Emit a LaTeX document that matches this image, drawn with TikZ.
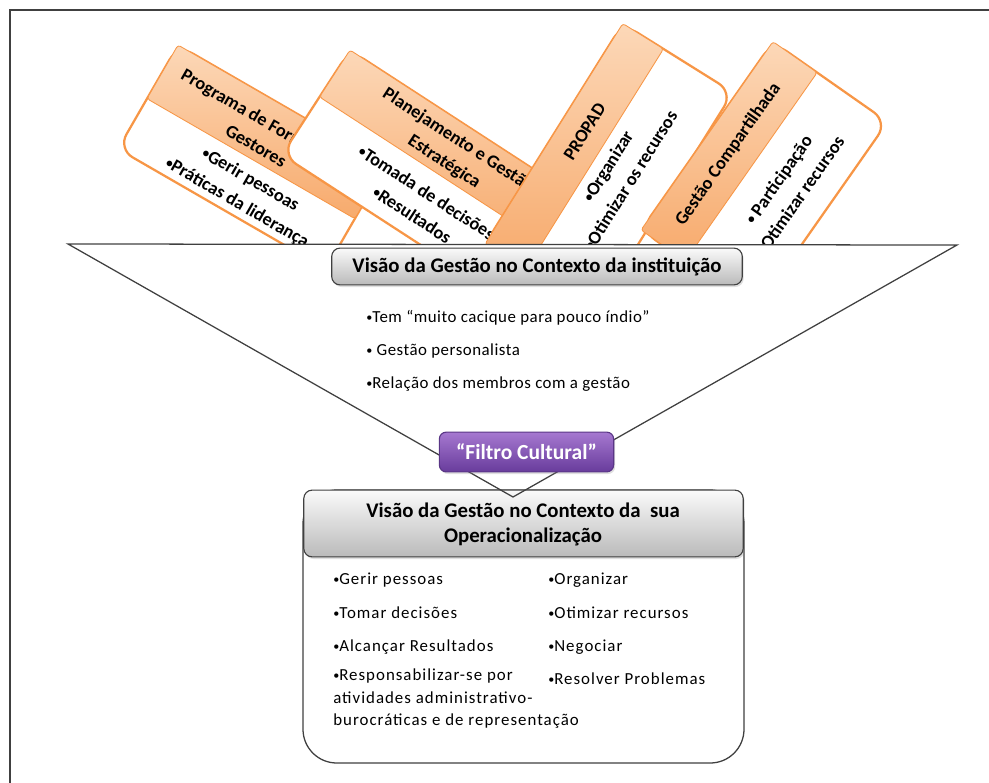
\documentclass[tikz,border=0pt]{standalone}
\usepackage{fontspec}
\setmainfont{Carlito}
\usetikzlibrary{positioning,shadows}

\definecolor{cardline}{RGB}{247,150,70}
\definecolor{bandtop}{RGB}{252,216,184}
\definecolor{bandbot}{RGB}{247,170,108}
\definecolor{greytop}{RGB}{250,250,250}
\definecolor{greybot}{RGB}{186,186,186}
\definecolor{edgegrey}{RGB}{64,64,64}
\definecolor{violettop}{RGB}{166,120,208}
\definecolor{violetbot}{RGB}{104,60,156}
\definecolor{violetline}{RGB}{90,54,134}

\newcommand\bl{\raisebox{0.08em}{\scalebox{0.72}{•}}}

\tikzset{
  cardbody/.style={draw=cardline, line width=1.6pt, fill=white, rounded corners=12pt},
  cardband/.style={draw=cardline, line width=0.6pt, top color=bandtop, bottom color=bandbot, rounded corners=2pt},
  cardhead/.style={font=\fontsize{13}{18.5}\selectfont\bfseries, align=center, inner sep=0pt},
  cardlist/.style={font=\fontsize{13}{19}\selectfont\bfseries, align=center, inner sep=0pt},
  greybox/.style={draw=edgegrey, line width=0.8pt, top color=greytop, bottom color=greybot, rounded corners=6pt,
    drop shadow={opacity=0.25, shadow xshift=1pt, shadow yshift=-1.5pt}},
  headtext/.style={font=\fontsize{14.8}{17.7}\selectfont\bfseries, align=center},
  instlist/.style={font=\fontsize{12}{16}\selectfont\addfontfeature{LetterSpace=3}, inner sep=0pt, anchor=west, align=left},
  oplist/.style={font=\fontsize{12}{16}\selectfont\addfontfeature{LetterSpace=6}, inner sep=0pt, anchor=west, align=left},
  filterbox/.style={draw=violetline, line width=0.8pt, top color=violettop, bottom color=violetbot, rounded corners=5pt,
    text=white, font=\fontsize{15.3}{17}\selectfont\bfseries, minimum width=124pt, minimum height=28.3pt,
    drop shadow={opacity=0.25, shadow xshift=1pt, shadow yshift=-1.5pt}},
  funnel/.style={draw=edgegrey, line width=0.9pt},
  opbody/.style={draw=edgegrey, line width=0.9pt, fill=white, rounded corners=24pt}
}

\begin{document}
\begin{tikzpicture}[x=0.025cm,y=-0.025cm]
\newcommand\Card[3]{\draw[cardbody] (0,0) rectangle (#1,#2);
  \draw[cardband] (0,0) rectangle (#1,#3);}
\useasboundingbox (0,0) rectangle (989,783);
\draw[edgegrey, line width=1.2pt] (10,783) -- (10,10) -- (989,10);

% cards above the funnel
\begin{scope}
\clip (0,0) rectangle (989,244);
\begin{scope}[shift={(178,45)}, rotate=-30, transform shape]
\Card{240}{120}{62}
\node[cardhead] (progHead) at (118,35) {Programa de Formação de\\Gestores};
\node[cardlist] (progList) at (130,94) {\bl Gerir pessoas\\\bl Práticas da liderança};
\end{scope}
\begin{scope}[shift={(350,50)}, rotate=-33, transform shape]
\Card{280}{125}{56}
\node[cardhead] (planHead) at (140,30) {Planejamento e Gestão\\Estratégica};
\node[cardlist] (planList) at (142,91) {\bl Tomada de decisões\\\bl Resultados};
\end{scope}
\begin{scope}[shift={(485,244)}, rotate=58, transform shape]
\Card{260}{130}{48}
\node[cardhead] (propadHead) at (148,25) {PROPAD};
\node[cardlist] (propadList) at (131,76) {\bl Organizar\\\bl Otimizar os recursos};
\end{scope}
\begin{scope}[shift={(641,230)}, rotate=55, transform shape]
\Card{230}{140}{54}
\node[cardhead] (compHead) at (112,28) {Gestão Compartilhada};
\node[cardlist] (compList) at (120,97) {\bl\ Participação\\\bl Otimizar recursos};
\end{scope}
\end{scope}

% lower box
\draw[opbody] (303,490) rectangle (744,763);
\node[greybox, minimum width=312.5pt, minimum height=47.5pt] (operBox) at (523.5,523.5) {};
\node[headtext] (operHead) at (523,524) {Visão da Gestão no Contexto da~ sua\\Operacionalização};

% funnel
\coordinate (funL) at (68,244);
\coordinate (funR) at (957,245);
\coordinate (funTip) at (513,497);
\draw[funnel] (funL) -- (funR) -- (funTip) -- cycle;

\node[greybox, headtext, minimum width=292pt, minimum height=26.2pt] (instHead) at (537,266.5)
  {Visão da Gestão no Contexto da instituição};
\node[instlist] (instL1) at (366,318) {\bl Tem “muito cacique para pouco índio”};
\node[instlist] (instL2) at (366,351) {\bl\ Gestão personalista};
\node[instlist] (instL3) at (366,384) {\bl Relação dos membros com a gestão};

\node[filterbox] (filtro) at (526.5,452) {“Filtro Cultural”};

\node[oplist] (operL1) at (333,580) {\bl Gerir pessoas};
\node[oplist] (operL2) at (333,613) {\bl Tomar decisões};
\node[oplist] (operL3) at (333,647) {\bl Alcançar Resultados};
\node[oplist] (operL4) at (333,699) {\bl Responsabilizar-se por\\atividades administrativo-\\burocráticas e de representação};
\node[oplist] (operR1) at (548,580) {\bl Organizar};
\node[oplist] (operR2) at (548,613) {\bl Otimizar recursos};
\node[oplist] (operR3) at (548,647) {\bl Negociar};
\node[oplist] (operR4) at (548,679) {\bl Resolver Problemas};
\end{tikzpicture}
\end{document}
